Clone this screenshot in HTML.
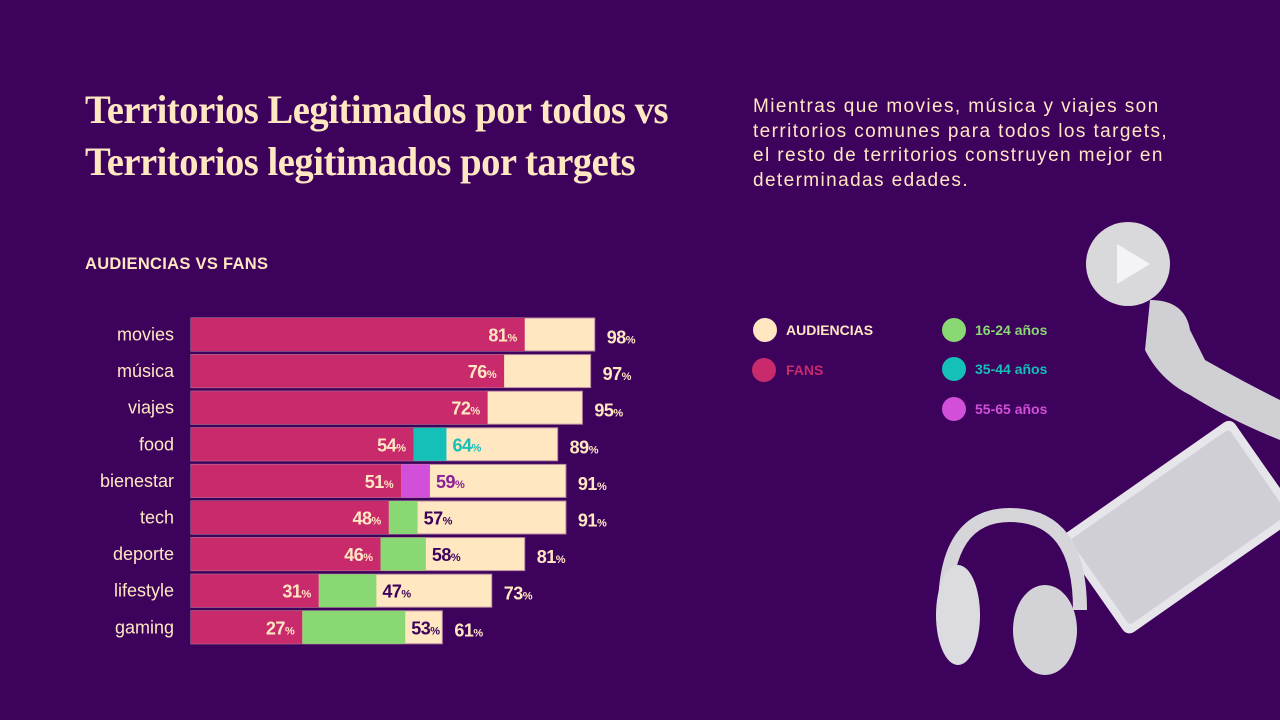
<!DOCTYPE html>
<html><head><meta charset="utf-8"><style>
html,body{margin:0;padding:0;}
body{width:1280px;height:720px;background:#3d025b;overflow:hidden;position:relative;font-family:"Liberation Sans",sans-serif;}
.title{position:absolute;left:85px;top:84px;color:#ffe7c2;font-family:"Liberation Serif",serif;font-weight:bold;font-size:40px;line-height:52px;letter-spacing:-0.5px;transform:scaleX(0.965);transform-origin:left top;white-space:nowrap;}
.desc{position:absolute;left:753px;top:95px;color:#ffe7c2;font-size:19px;line-height:24.5px;white-space:nowrap;letter-spacing:1.4px;}
.sub{position:absolute;left:85px;top:255px;color:#ffe7c2;font-weight:bold;font-size:16.5px;letter-spacing:0.3px;}
svg{position:absolute;left:0;top:0;}
</style></head><body>
<div class="title">Territorios Legitimados por todos vs<br>Territorios legitimados por targets</div>
<div class="desc">Mientras que movies, música y viajes son<br>territorios comunes para todos los targets,<br>el resto de territorios construyen mejor en<br>determinadas edades.</div>
<div class="sub">AUDIENCIAS VS FANS</div>
<svg id="chart" width="1280" height="720">
  <g>
    <circle cx="1128" cy="264" r="42" fill="#d9d9dc"/>
    <polygon points="1117,244 1117,284 1150,264" fill="#f4f4f6"/>
    <path d="M1150,300 Q1185,300 1190,330 L1205,360 Q1240,380 1280,400 L1280,440 Q1230,420 1190,395 Q1160,380 1145,350 Z" fill="#d0d0d4"/>
    <g transform="translate(1175,530) rotate(-35)">
      <rect x="-100" y="-60" width="210" height="120" rx="8" fill="#e6e6ea"/>
      <rect x="-92" y="-52" width="194" height="104" rx="4" fill="#cfcfd5"/>
    </g>
    <path d="M945,610 Q945,515 1010,515 Q1080,515 1080,610" fill="none" stroke="#d5d5da" stroke-width="14"/>
    <ellipse cx="958" cy="615" rx="22" ry="50" fill="#dcdce0"/>
    <ellipse cx="1045" cy="630" rx="32" ry="45" fill="#d2d2d7"/>
  </g>
  <g id="bars"></g>
  <g>
    <circle cx="765" cy="330" r="12" fill="#ffe7c2"/><text x="786" y="335" fill="#ffe7c2" font-weight="bold" font-size="14">AUDIENCIAS</text>
    <circle cx="764" cy="370" r="12" fill="#c92a6c"/><text x="786" y="375" fill="#c92a6c" font-weight="bold" font-size="14">FANS</text>
    <circle cx="954" cy="330" r="12" fill="#8ad874"/><text x="975" y="335" fill="#8ad874" font-weight="bold" font-size="14">16-24 años</text>
    <circle cx="954" cy="369" r="12" fill="#15c0b8"/><text x="975" y="374" fill="#15c0b8" font-weight="bold" font-size="14">35-44 años</text>
    <circle cx="954" cy="409" r="12" fill="#d24fd9"/><text x="975" y="414" fill="#d24fd9" font-weight="bold" font-size="14">55-65 años</text>
  </g>
</svg>
<script>
const categories=["movies","música","viajes","food","bienestar","tech","deporte","lifestyle","gaming"];
const audiencias=[98,97,95,89,91,91,81,73,61];
const fans=[81,76,72,54,51,48,46,31,27];
const targetVals=[null,null,null,62,58,55,57,45,52];
const targetLabels=[null,null,null,64,59,57,58,47,53];
const targetGroup=[null,null,null,"35-44","55-65","16-24","16-24","16-24","16-24"];
const groupColor={"16-24":"#8ad874","35-44":"#15c0b8","55-65":"#d24fd9"};
const labelColor={"16-24":"#3d025b","35-44":"#15c0b8","55-65":"#8c1e96"};
const x0=191,k=4.12,y0=318,pitch=36.6,bh=33;
const X=v=>x0+v*k, Y=i=>y0+i*pitch;
const NS="http://www.w3.org/2000/svg";
const g=document.getElementById('bars');
function mk(tag,attrs){const e=document.createElementNS(NS,tag);for(const a in attrs)e.setAttribute(a,attrs[a]);g.appendChild(e);return e;}
function pct(x,y,v,color,anchor){
  const t=mk('text',{x:x,y:y,fill:color,'font-weight':'bold','font-size':18,'text-anchor':anchor,'letter-spacing':'-0.5'});
  
  
  t.appendChild(document.createTextNode(v));
  const s=document.createElementNS(NS,'tspan');s.setAttribute('font-size','11');s.textContent='%';t.appendChild(s);
}
categories.forEach((c,i)=>{
  const y=Y(i),cy=y+bh/2;
  const lab=mk('text',{x:174,y:cy+6,fill:'#ffe7c2','font-size':18,'text-anchor':'end'});
  
  
  lab.textContent=c;
  const a=mk('rect',{x:x0,y:y,width:X(audiencias[i])-x0,height:bh,fill:'#ffe7c2',stroke:'#b98aa0','stroke-width':1});
  
  
  if(targetVals[i]!=null){
    const t=mk('rect',{x:X(fans[i]),y:y,width:X(targetVals[i])-X(fans[i]),height:bh,fill:groupColor[targetGroup[i]]});
    
    
  }
  const f=mk('rect',{x:x0,y:y,width:X(fans[i])-x0,height:bh,fill:'#c92a6c'});
  
  
  pct(X(fans[i])-8,cy+7,fans[i],'#ffe7c2','end');
  if(targetVals[i]!=null) pct(X(targetVals[i])+6,cy+7,targetLabels[i],labelColor[targetGroup[i]],'start');
  pct(X(audiencias[i])+12,cy+9,audiencias[i],'#ffe7c2','start');
});
</script>
</body></html>
